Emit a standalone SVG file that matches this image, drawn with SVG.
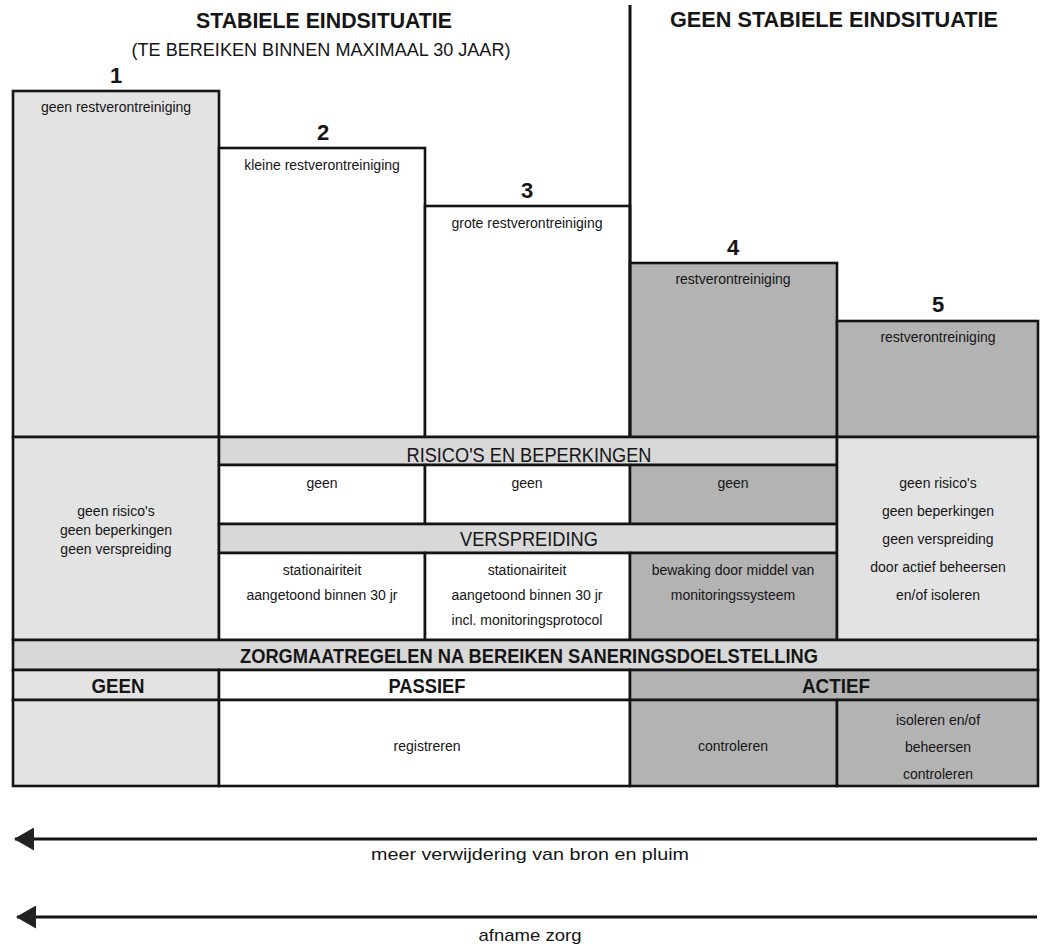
<svg xmlns="http://www.w3.org/2000/svg" width="1044" height="947" viewBox="0 0 1044 947">
<style>
rect{stroke:#141414;stroke-width:2.6}
.lt{fill:#e3e3e3}
.bd{fill:#d8d8d8}
.dk{fill:#b3b3b3}
.wh{fill:#ffffff}
text{font-family:"Liberation Sans",Arial,sans-serif;fill:#151515;text-anchor:middle}
.s{font-size:14px}
.n{font-size:22px;font-weight:bold}
.ti{font-size:22px;font-weight:bold}
.sub{font-size:18px}
.hd{font-size:21px}
.bh{font-size:20px;font-weight:bold}
.ar{font-size:17px}
.ln{stroke:#141414;stroke-width:3;fill:none}
</style>
<defs>
<marker id="ah" markerWidth="20" markerHeight="23" refX="19" refY="11.5" orient="auto" markerUnits="userSpaceOnUse">
<path d="M20,11.5 L0,0 L0,23 Z" fill="#222"/>
</marker>
</defs>

<g id="titles">
<text class="ti" x="324" y="28" textLength="256" lengthAdjust="spacingAndGlyphs">STABIELE EINDSITUATIE</text>
<text class="sub" x="321" y="56" textLength="379" lengthAdjust="spacingAndGlyphs">(TE BEREIKEN BINNEN MAXIMAAL 30 JAAR)</text>
<text class="ti" x="834" y="27" textLength="328" lengthAdjust="spacingAndGlyphs">GEEN STABIELE EINDSITUATIE</text>
</g>

<g id="box1">
<rect class="lt" x="13" y="91" width="206" height="346"/>
<text class="n" x="116" y="83">1</text>
<text class="s" x="116" y="112">geen restverontreiniging</text>
</g>
<g id="box2">
<rect class="wh" x="219" y="148" width="206" height="289"/>
<text class="n" x="323" y="140">2</text>
<text class="s" x="322" y="170">kleine restverontreiniging</text>
</g>
<g id="box3">
<rect class="wh" x="425" y="206" width="205" height="231"/>
<text class="n" x="527" y="198">3</text>
<text class="s" x="527" y="228">grote restverontreiniging</text>
</g>
<g id="box4">
<rect class="dk" x="630" y="263" width="207" height="174"/>
<text class="n" x="733" y="255">4</text>
<text class="s" x="733" y="284">restverontreiniging</text>
</g>
<g id="box5">
<rect class="dk" x="837" y="321" width="201" height="116"/>
<text class="n" x="938" y="312">5</text>
<text class="s" x="938" y="342">restverontreiniging</text>
</g>
<g id="divider">
<line class="ln" x1="630" y1="5" x2="630" y2="437"/>
</g>

<g id="mid-col1">
<rect class="lt" x="13" y="437" width="206" height="203"/>
<text class="s" x="116" y="516">geen risico's</text>
<text class="s" x="116" y="535">geen beperkingen</text>
<text class="s" x="116" y="554">geen verspreiding</text>
</g>
<g id="risicos-band">
<rect class="bd" x="219" y="437" width="618" height="28"/>
<text class="hd" x="529" y="462" textLength="245" lengthAdjust="spacingAndGlyphs">RISICO'S EN BEPERKINGEN</text>
</g>
<g id="risicos-2">
<rect class="wh" x="219" y="465" width="206" height="59"/>
<text class="s" x="322" y="488">geen</text>
</g>
<g id="risicos-3">
<rect class="wh" x="425" y="465" width="205" height="59"/>
<text class="s" x="527" y="488">geen</text>
</g>
<g id="risicos-4">
<rect class="dk" x="630" y="465" width="207" height="59"/>
<text class="s" x="733" y="488">geen</text>
</g>
<g id="verspreiding-band">
<rect class="bd" x="219" y="524" width="618" height="29"/>
<text class="hd" x="529" y="546" textLength="138" lengthAdjust="spacingAndGlyphs">VERSPREIDING</text>
</g>
<g id="versp-2">
<rect class="wh" x="219" y="553" width="206" height="87"/>
<text class="s" x="322" y="575">stationairiteit</text>
<text class="s" x="322" y="600">aangetoond binnen 30 jr</text>
</g>
<g id="versp-3">
<rect class="wh" x="425" y="553" width="205" height="87"/>
<text class="s" x="527" y="575">stationairiteit</text>
<text class="s" x="527" y="600">aangetoond binnen 30 jr</text>
<text class="s" x="527" y="625">incl. monitoringsprotocol</text>
</g>
<g id="versp-4">
<rect class="dk" x="630" y="553" width="207" height="87"/>
<text class="s" x="733" y="575">bewaking door middel van</text>
<text class="s" x="733" y="600">monitoringssysteem</text>
</g>
<g id="mid-col5">
<rect class="lt" x="837" y="437" width="201" height="203"/>
<text class="s" x="938" y="488">geen risico's</text>
<text class="s" x="938" y="516">geen beperkingen</text>
<text class="s" x="938" y="544">geen verspreiding</text>
<text class="s" x="938" y="572">door actief beheersen</text>
<text class="s" x="938" y="600">en/of isoleren</text>
</g>

<g id="zorg-band">
<rect class="bd" x="13" y="640" width="1025" height="30"/>
<text class="bh" x="529" y="663" textLength="578" lengthAdjust="spacingAndGlyphs">ZORGMAATREGELEN NA BEREIKEN SANERINGSDOELSTELLING</text>
</g>
<g id="geen">
<rect class="lt" x="13" y="670" width="206" height="30"/>
<text class="bh" x="118" y="693" textLength="53" lengthAdjust="spacingAndGlyphs">GEEN</text>
</g>
<g id="passief">
<rect class="wh" x="219" y="670" width="411" height="30"/>
<text class="bh" x="427" y="693" textLength="77" lengthAdjust="spacingAndGlyphs">PASSIEF</text>
</g>
<g id="actief">
<rect class="dk" x="630" y="670" width="408" height="30"/>
<text class="bh" x="836" y="693" textLength="68" lengthAdjust="spacingAndGlyphs">ACTIEF</text>
</g>
<g id="bottom-1">
<rect class="lt" x="13" y="700" width="206" height="86"/>
</g>
<g id="registreren">
<rect class="wh" x="219" y="700" width="411" height="86"/>
<text class="s" x="427" y="751">registreren</text>
</g>
<g id="controleren">
<rect class="dk" x="630" y="700" width="207" height="86"/>
<text class="s" x="733" y="751">controleren</text>
</g>
<g id="isoleren">
<rect class="dk" x="837" y="700" width="201" height="86"/>
<text class="s" x="938" y="725">isoleren en/of</text>
<text class="s" x="938" y="752">beheersen</text>
<text class="s" x="938" y="779">controleren</text>
</g>

<g id="connectors">
<line class="ln" x1="1037" y1="839" x2="15" y2="839" marker-end="url(#ah)"/>
<line class="ln" x1="1037" y1="917" x2="17" y2="917" marker-end="url(#ah)"/>
</g>
<g id="arrow-labels">
<text class="ar" x="530" y="860" textLength="318" lengthAdjust="spacingAndGlyphs">meer verwijdering van bron en pluim</text>
<text class="ar" x="530" y="941" textLength="103" lengthAdjust="spacingAndGlyphs">afname zorg</text>
</g>
</svg>
